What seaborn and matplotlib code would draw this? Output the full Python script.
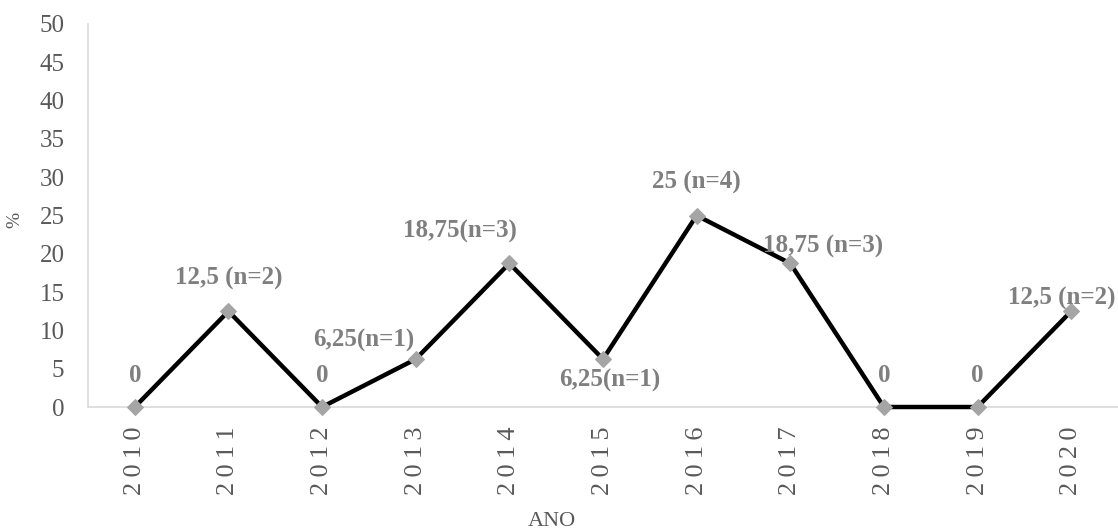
import matplotlib
matplotlib.use("Agg")
import matplotlib.pyplot as plt
import seaborn as sns

years = [2010, 2011, 2012, 2013, 2014, 2015, 2016, 2017, 2018, 2019, 2020]
percent = [0, 12.5, 0, 6.25, 18.75, 6.25, 25, 18.75, 0, 0, 12.5]
point_labels = ['0', '12,5 (n=2)', '0', '6,25(n=1)', '18,75(n=3)', '6,25(n=1)',
                '25 (n=4)', '18,75 (n=3)', '0', '0', '12,5 (n=2)']
# label offsets in pixels from each point
offsets = [(0, 32), (0, 33), (0, 32), (-52, 19), (-49, 32), (7, -21),
           (0, 33), (33, 17), (0, 32), (0, 32), (-9, 13)]
y_ticks = [0, 5, 10, 15, 20, 25, 30, 35, 40, 45, 50]

sns.set_style("white")
plt.rcParams['font.family'] = ['Liberation Serif', 'DejaVu Serif']

fig = plt.figure(figsize=(11.18, 5.31), dpi=100)
ax = fig.add_axes([88 / 1118, 1 - 407 / 531, 1 - 88 / 1118, (407 - 24) / 531])

sns.lineplot(x=years, y=percent, ax=ax, color='black', linewidth=3.2,
             marker='D', markersize=8, markerfacecolor='#a5a5a5',
             markeredgecolor='#a5a5a5', clip_on=False, zorder=3)

for x, y, txt, (dx, dy) in zip(years, percent, point_labels, offsets):
    ax.annotate(txt, (x, y), xytext=(dx, dy), textcoords='offset pixels',
                ha='center', va='center', fontsize=18, fontweight='bold',
                color='#7f7f7f', zorder=4)

ax.set_xlim(years[0] - 0.5, years[-1] + 0.5)
ax.set_ylim(0, 50)
ax.set_yticks(y_ticks)
ax.set_yticklabels([str(t) for t in y_ticks], fontsize=18, color='#595959')
ax.set_xticks(years)
ax.set_xticklabels(['\u2009'.join(str(y)) for y in years], rotation=90,
                   fontsize=19, color='#595959')
ax.tick_params(axis='y', length=0, pad=17)
ax.tick_params(axis='x', length=0, pad=14)

for side in ['top', 'right']:
    ax.spines[side].set_visible(False)
for side in ['left', 'bottom']:
    ax.spines[side].set_color('#d9d9d9')
    ax.spines[side].set_linewidth(1.2)

ax.set_ylabel('%', fontsize=14, color='#595959', va='center')
ax.yaxis.set_label_coords(-0.071, 0.488)
ax.set_xlabel('ANO', fontsize=16, color='#595959', va='center')
ax.xaxis.set_label_coords(0.45, -0.30)

fig.savefig('out.png', dpi=100)
